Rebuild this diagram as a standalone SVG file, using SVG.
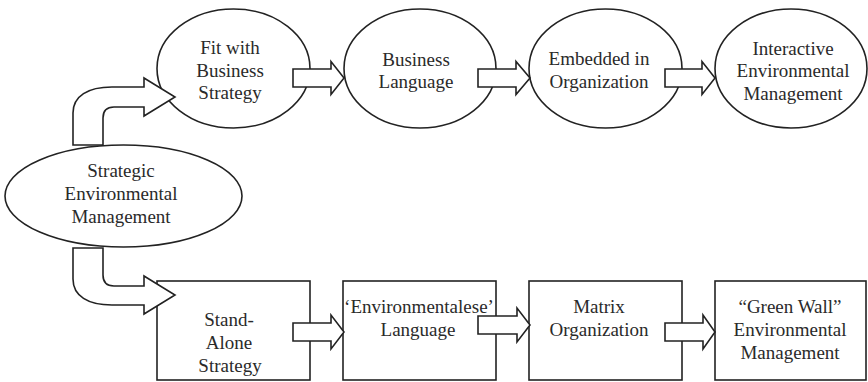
<svg xmlns="http://www.w3.org/2000/svg" width="868" height="382" viewBox="0 0 868 382">
  <style>
    .shape { fill: #ffffff; stroke: #222222; stroke-width: 1.6; }
    .label { font-family: "Liberation Serif", "Times New Roman", serif; font-size: 19px; fill: #2a2a2a; text-anchor: middle; }
    .arrow { fill: #ffffff; stroke: #222222; stroke-width: 1.6; stroke-linejoin: miter; }
  </style>
  <rect width="868" height="382" fill="#ffffff"/>

  <!-- Top row: integrated path -->
  <g id="node-strategic">
    <ellipse class="shape" cx="123.5" cy="196" rx="118.5" ry="51"/>
    <text class="label" x="121" y="177">Strategic</text>
    <text class="label" x="121" y="200">Environmental</text>
    <text class="label" x="121" y="223">Management</text>
  </g>
  <g id="node-fit">
    <ellipse class="shape" cx="233.5" cy="68.5" rx="76.5" ry="59.5"/>
    <text class="label" x="230" y="54">Fit with</text>
    <text class="label" x="230" y="77">Business</text>
    <text class="label" x="230" y="99">Strategy</text>
  </g>
  <g id="node-business-language">
    <ellipse class="shape" cx="420" cy="68.5" rx="76" ry="59.5"/>
    <text class="label" x="416" y="66">Business</text>
    <text class="label" x="416" y="88">Language</text>
  </g>
  <g id="node-embedded">
    <ellipse class="shape" cx="605.5" cy="68.5" rx="76.5" ry="59.5"/>
    <text class="label" x="599" y="65">Embedded in</text>
    <text class="label" x="599" y="88">Organization</text>
  </g>
  <g id="node-interactive">
    <ellipse class="shape" cx="791" cy="68.5" rx="76" ry="59.5"/>
    <text class="label" x="793" y="55">Interactive</text>
    <text class="label" x="793" y="77">Environmental</text>
    <text class="label" x="793" y="100">Management</text>
  </g>

  <!-- Bottom row: stand-alone path -->
  <g id="node-stand-alone">
    <rect class="shape" x="157" y="281" width="153" height="99"/>
    <text class="label" x="229" y="326">Stand-</text>
    <text class="label" x="229" y="349">Alone</text>
    <text class="label" x="230" y="372">Strategy</text>
  </g>
  <g id="node-environmentalese">
    <rect class="shape" x="343" y="281" width="153" height="99"/>
    <text class="label" x="419" y="313">‘Environmentalese’</text>
    <text class="label" x="418" y="336">Language</text>
  </g>
  <g id="node-matrix">
    <rect class="shape" x="529" y="281" width="153" height="99"/>
    <text class="label" x="599" y="313">Matrix</text>
    <text class="label" x="599" y="336">Organization</text>
  </g>
  <g id="node-green-wall">
    <rect class="shape" x="715" y="281" width="151" height="99"/>
    <text class="label" x="790" y="313">“Green Wall”</text>
    <text class="label" x="790" y="336">Environmental</text>
    <text class="label" x="790" y="359">Management</text>
  </g>

  <!-- Block arrows between stages -->
  <g id="connectors">
    <path class="arrow" d="M73,145 V113 C73,96 88,87 112,87 H144 V78 L175,97 L144,116 V107 H114 Q103,107 103,118 V145 Z"/>
    <path class="arrow" d="M73,248 V279 C73,296 88,305 112,305 H144 V314 L175,295 L144,276 V286 H114 Q103,286 103,275 V248 Z"/>

    <path class="arrow" d="M293,69 H331 V61.5 L344,78 L331,94.5 V87 H293 Z"/>
    <path class="arrow" d="M478,69 H516 V61.5 L530,78 L516,94.5 V87 H478 Z"/>
    <path class="arrow" d="M665,69 H702 V61.5 L715,78 L702,94.5 V87 H665 Z"/>

    <path class="arrow" d="M293,323 H331 V315 L344,332 L331,349 V341 H293 Z"/>
    <path class="arrow" d="M478,316 H517 V308 L530,325 L517,342 V334 H478 Z"/>
    <path class="arrow" d="M665,323 H703 V315 L715,332 L703,349 V341 H665 Z"/>
  </g>
</svg>
